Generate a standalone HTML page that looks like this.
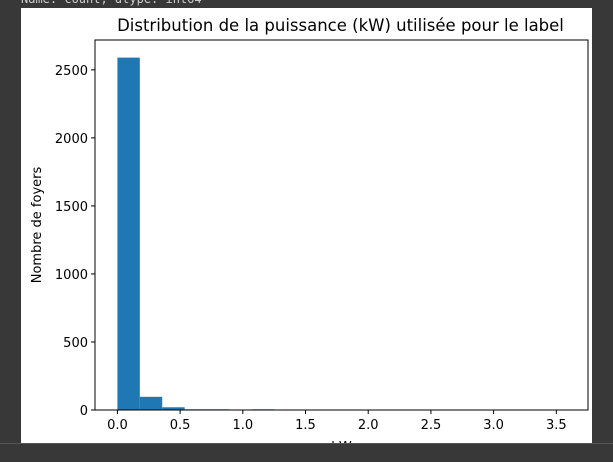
<!DOCTYPE html>
<html><head><meta charset="utf-8"><style>
body{margin:0;width:613px;height:461px;background:#383838;overflow:hidden;position:relative;font-family:"DejaVu Sans","Liberation Sans",sans-serif}
#top{position:absolute;left:21px;top:-8px;font:12px "DejaVu Sans Mono","Liberation Mono",monospace;color:#ccc}
#fig{position:absolute;left:21px;top:8px;width:571px;height:435px;background:#fff}
#bot{position:absolute;left:0;top:443px;width:613px;height:18px;background:#383838;border-top:1px solid #555}
</style></head><body>
<div id="top">Name: count, dtype: int64</div>
<div id="fig"></div>
<svg id="svg" width="613" height="461" style="position:absolute;left:0;top:0"></svg>
<div id="bot"></div>
<script>
const counts=[2590,97,20,5,5,0,5,0,0,0,0,0,0,0,0,0,0,0,0,0];
const binMax=3.574;
const xTicks=["0.0","0.5","1.0","1.5","2.0","2.5","3.0","3.5"];
const yTicks=[0,500,1000,1500,2000,2500];
const L=95,R=588,T=40,B=410;
const xmin=-binMax*0.05,xmax=binMax*1.05,ymax=2590*1.05;
const X=v=>L+(v-xmin)/(xmax-xmin)*(R-L);
const Y=v=>B-v/ymax*(B-T);
const s=document.getElementById('svg');const NS='http://www.w3.org/2000/svg';
function mk(t,a,p){const e=document.createElementNS(NS,t);for(const k in a)e.setAttribute(k,a[k]);(p||s).appendChild(e);return e;}
const bw=binMax/counts.length;
counts.forEach((c,i)=>{if(c<=0)return;const r=mk('rect',{x:X(i*bw),y:Y(c),width:X((i+1)*bw)-X(i*bw),height:B-Y(c),fill:'#1f77b4'});

});
const fr=mk('rect',{x:L,y:T,width:R-L,height:B-T,fill:'none',stroke:'#000','stroke-width':1});


xTicks.forEach(t=>{const x=X(parseFloat(t));mk('line',{x1:x,x2:x,y1:B,y2:B+4,stroke:'#000'});
const tx=mk('text',{x:x,y:B+19,'text-anchor':'middle','font-size':13,fill:'#000'});tx.textContent=t;

});
yTicks.forEach(t=>{const y=Y(t);mk('line',{x1:L-4,x2:L,y1:y,y2:y,stroke:'#000'});
const tx=mk('text',{x:L-7,y:y+5,'text-anchor':'end','font-size':13,fill:'#000'});tx.textContent=t;

});
const ti=mk('text',{x:(L+R)/2-1,y:31,'text-anchor':'middle','font-size':16.5,fill:'#000'});ti.textContent='Distribution de la puissance (kW) utilisée pour le label';


const yl=mk('text',{x:41,y:(T+B)/2,'text-anchor':'middle','font-size':13,fill:'#000',transform:`rotate(-90 41 ${(T+B)/2})`});yl.textContent='Nombre de foyers';


const xl=mk('text',{x:(L+R)/2,y:451,'text-anchor':'middle','font-size':13,fill:'#000'});xl.textContent='kW';


</script>
</body></html>
